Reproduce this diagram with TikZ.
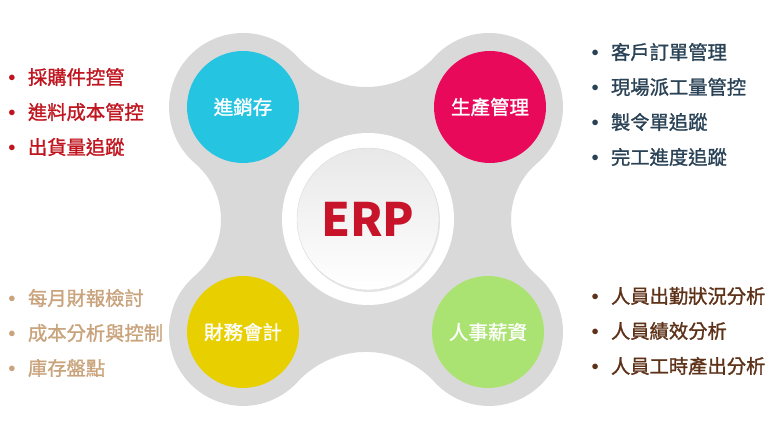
\documentclass[tikz,border=0pt]{standalone}
\usepackage{fontspec}
\setmainfont{Noto Sans CJK TC}
\newfontfamily\listfont{Noto Sans CJK TC}[FakeBold=1.3]
\usetikzlibrary{positioning, shadows}

\definecolor{blobgray}{HTML}{D9D9D9}
\definecolor{stockcyan}{HTML}{25C5E2}
\definecolor{prodred}{HTML}{E8095A}
\definecolor{finyellow}{HTML}{E8D000}
\definecolor{hrgreen}{HTML}{AAE372}
\definecolor{erpred}{HTML}{C8142A}
\definecolor{listred}{HTML}{C0141E}
\definecolor{listblue}{HTML}{2A4256}
\definecolor{listtan}{HTML}{C9A37C}
\definecolor{listbrown}{HTML}{5E3219}

\tikzstyle{module} = [circle, minimum size=112pt, inner sep=0pt,
  text=white, font=\listfont\fontsize{19.5}{19.5}\selectfont]
\tikzstyle{item} = [inner sep=0pt, font=\listfont\fontsize{19.3}{19.5}\selectfont]

\newcommand{\dotitem}[1]{\makebox[19.5pt][l]{\raisebox{2.9pt}{\fontsize{15}{15}\selectfont$\bullet$}}#1}

\begin{document}
\begin{tikzpicture}[x=1pt, y=1pt, node distance=35pt, on grid]
    % Define styles for hub
    \tikzstyle{ring} = [circle, fill=white, minimum size=172pt, inner sep=0pt]
    \tikzstyle{hub} = [circle, minimum size=142pt, inner sep=0pt, draw=black!15,
      top color=black!9, bottom color=white,
      drop shadow={opacity=0.2, shadow xshift=1pt, shadow yshift=-2pt},
      text=erpred, font=\fontsize{46}{46}\selectfont\bfseries]

    \useasboundingbox (0,0) rectangle (776,436);

    % Gray four-lobed backdrop
    \fill[blobgray] ([shift={(489,329)}]-49.6:74)
      arc[start angle=-49.6, end angle=137.4, radius=74]
      arc[start angle=317.4, end angle=222.6, radius=93.1]
      arc[start angle=42.6, end angle=229.6, radius=74]
      arc[start angle=49.6, end angle=-49.6, radius=73.7]
      arc[start angle=130.4, end angle=317.4, radius=74]
      arc[start angle=137.4, end angle=42.6, radius=93.1]
      arc[start angle=222.6, end angle=409.6, radius=74]
      arc[start angle=229.6, end angle=130.4, radius=73.7]
      -- cycle;

    % Place hub and modules
    \node [ring] (hubring) at (368,217) {};
    \node [hub] (erp) at (hubring) {ERP};
    \node [module, fill=stockcyan] (stock) at (243,329) {進銷存};
    \node [module, fill=prodred] (prod) at (490,329) {生產管理};
    \node [module, fill=finyellow] (fin) at (243,104) {財務會計};
    \node [module, fill=hrgreen] (hr) at (488,104) {人事薪資};

    % Stock list
    \node [item, text=listred, anchor=west] (stock1) at (8.3,359) {\dotitem{採購件控管}};
    \node [item, text=listred, below=of stock1.west, anchor=west] (stock2) {\dotitem{進料成本管控}};
    \node [item, text=listred, below=of stock2.west, anchor=west] (stock3) {\dotitem{出貨量追蹤}};

    % Production list
    \node [item, text=listblue, anchor=west] (prod1) at (591.3,384) {\dotitem{客戶訂單管理}};
    \node [item, text=listblue, below=of prod1.west, anchor=west] (prod2) {\dotitem{現場派工量管控}};
    \node [item, text=listblue, below=of prod2.west, anchor=west] (prod3) {\dotitem{製令單追蹤}};
    \node [item, text=listblue, below=of prod3.west, anchor=west] (prod4) {\dotitem{完工進度追蹤}};

    % Finance list
    \node [item, text=listtan, anchor=west] (fin1) at (8.3,138) {\dotitem{每月財報檢討}};
    \node [item, text=listtan, below=of fin1.west, anchor=west] (fin2) {\dotitem{成本分析與控制}};
    \node [item, text=listtan, below=of fin2.west, anchor=west] (fin3) {\dotitem{庫存盤點}};

    % HR list
    \node [item, text=listbrown, anchor=west] (hr1) at (591.3,140) {\dotitem{人員出勤狀況分析}};
    \node [item, text=listbrown, below=of hr1.west, anchor=west] (hr2) {\dotitem{人員績效分析}};
    \node [item, text=listbrown, below=of hr2.west, anchor=west] (hr3) {\dotitem{人員工時產出分析}};
\end{tikzpicture}
\end{document}
